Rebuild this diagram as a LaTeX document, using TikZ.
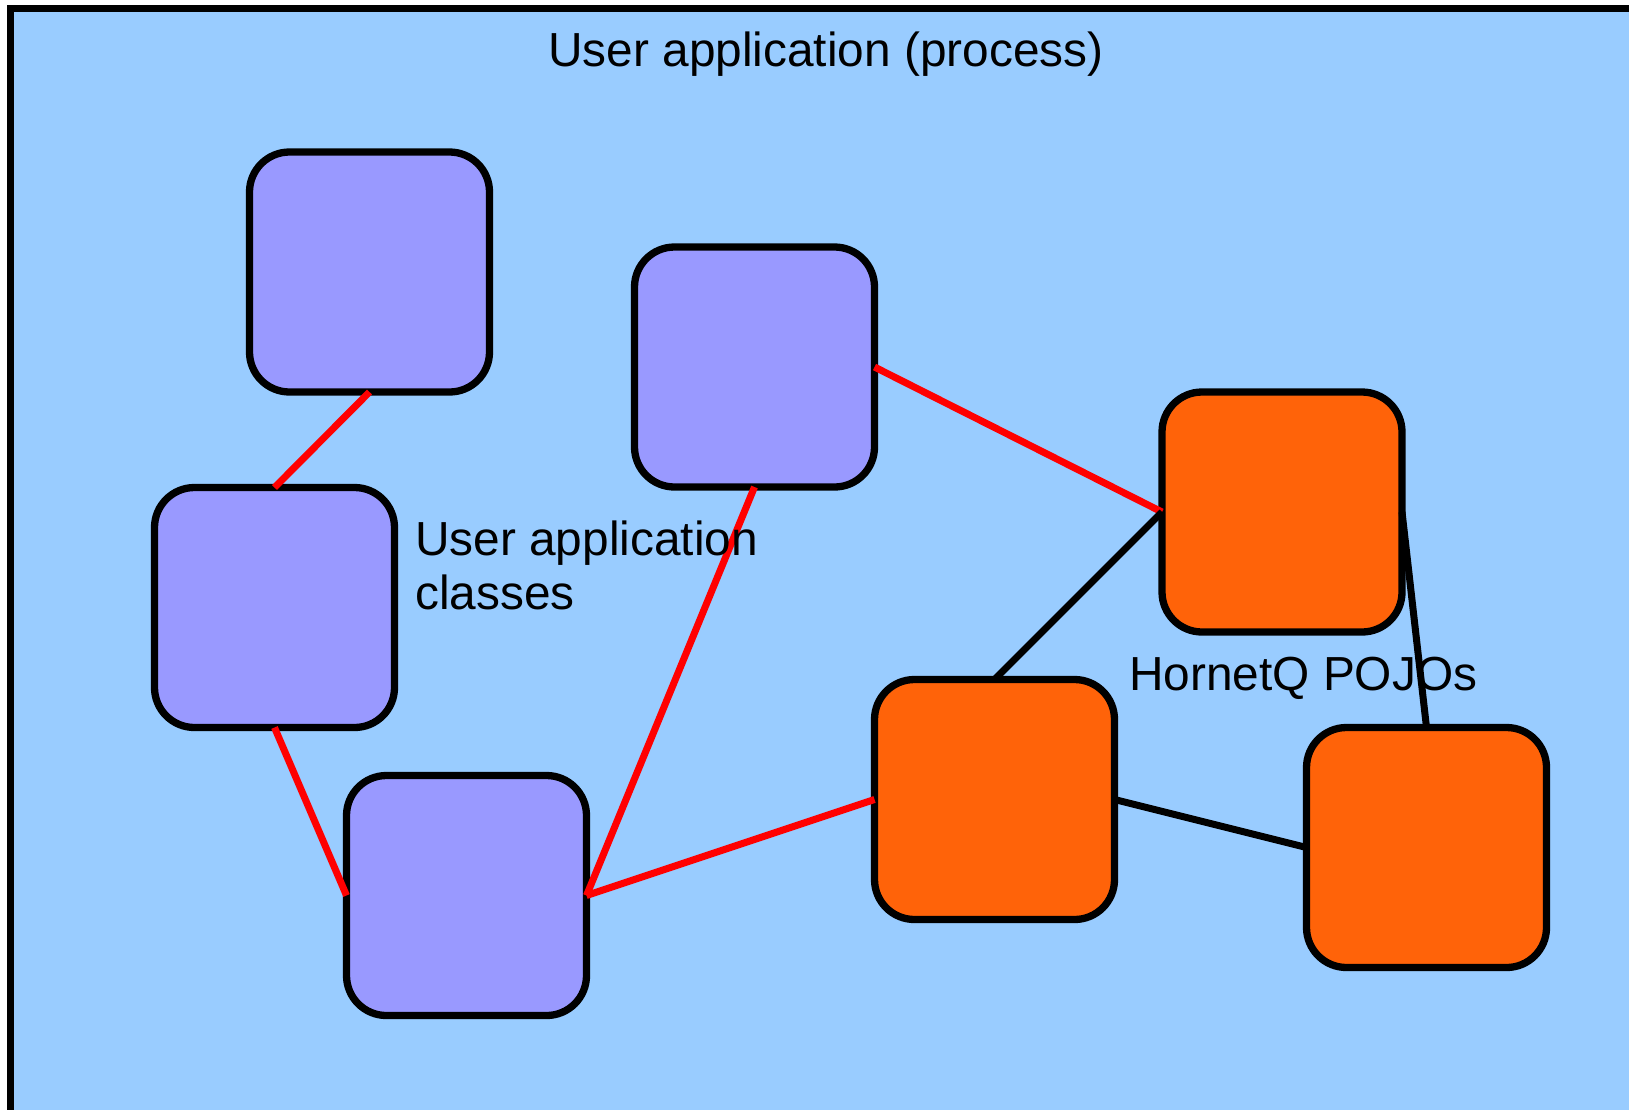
\documentclass[tikz,border=0pt]{standalone}
\usepackage{fontspec}
\setmainfont{Liberation Sans}
\definecolor{procbg}{HTML}{99CCFF}
\definecolor{userfill}{HTML}{9999FF}
\definecolor{pojofill}{HTML}{FF6309}
\begin{document}
\begin{tikzpicture}[x=1pt,y=-1pt,
  block/.style={draw=black,line width=7.3pt,rounded corners=40pt,outer sep=0pt,
    minimum width=240pt,minimum height=240pt,inner sep=0pt},
  userbox/.style={block,fill=userfill},
  pojobox/.style={block,fill=pojofill},
  userlink/.style={draw=red,line width=7pt},
  pojolink/.style={draw=black,line width=7pt},
  label/.style={inner sep=0pt,font=\fontsize{47.8}{54}\selectfont}]
\useasboundingbox (0,0) rectangle (1629,1109);
\clip (0,0) rectangle (1629,1109);
% process frame, running off the right and bottom edges
\draw[fill=procbg,line width=7pt] (10,8) rectangle (1700,1200);
\node[label,anchor=base] (title) at (826,66) {User application (process)};

% user application classes
\node[userbox] (u1) at (369.5,272) {};
\node[userbox] (u2) at (754.5,367) {};
\node[userbox] (u3) at (274.5,607.5) {};
\node[userbox] (u4) at (466.5,895.5) {};

% HornetQ POJOs
\node[pojobox] (p1) at (1282,512) {};
\node[pojobox] (p2) at (994.5,799.5) {};
\node[pojobox] (p3) at (1426.5,847.5) {};

% references between objects
\draw[userlink] (u1.south) -- (u3.north);
\draw[userlink] (u3.south) -- (u4.west);
\draw[userlink] (u2.south) -- (u4.east);
\draw[userlink] (u4.east) -- (p2.west);
\draw[userlink] (u2.east) -- (p1.west);
\draw[pojolink] (p1.west) -- (p2.north);
\draw[pojolink] (p2.east) -- (p3.west);
\draw[pojolink] (p1.east) -- (p3.north);

\node[label,anchor=north west,align=left] (userlbl) at (415,521) {User application\\classes};
\node[label,anchor=base west] (pojolbl) at (1129,690) {HornetQ POJOs};
\end{tikzpicture}
\end{document}
